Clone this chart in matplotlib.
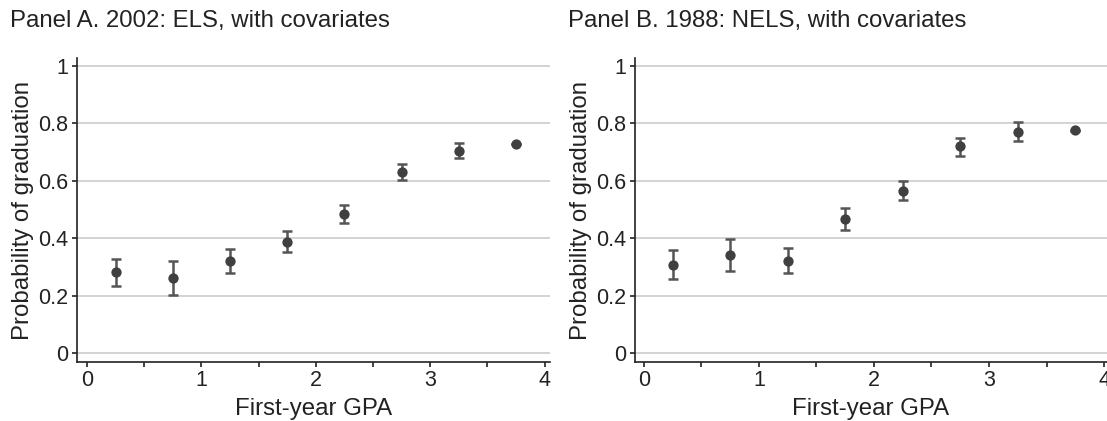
import matplotlib
matplotlib.use("Agg")
from matplotlib import pyplot as plt
from matplotlib.ticker import MultipleLocator

plt.rcParams['font.family'] = ['Liberation Sans', 'DejaVu Sans']

gpa = [0.25, 0.75, 1.25, 1.75, 2.25, 2.75, 3.25, 3.75]

# Panel A: ELS 2002
els_est = [0.282, 0.263, 0.322, 0.387, 0.486, 0.630, 0.705, 0.728]
els_lo = [0.233, 0.203, 0.280, 0.352, 0.455, 0.603, 0.678, 0.727]
els_hi = [0.329, 0.321, 0.364, 0.424, 0.516, 0.658, 0.731, 0.729]

# Panel B: NELS 1988
nels_est = [0.308, 0.341, 0.322, 0.467, 0.565, 0.721, 0.772, 0.776]
nels_lo = [0.257, 0.286, 0.279, 0.429, 0.532, 0.687, 0.739, 0.775]
nels_hi = [0.358, 0.396, 0.366, 0.504, 0.598, 0.751, 0.804, 0.777]

titles = ["Panel A. 2002: ELS, with covariates", "Panel B. 1988: NELS, with covariates"]
yticks = [0, 0.2, 0.4, 0.6, 0.8, 1]
ytick_labels = ["0", "0.2", "0.4", "0.6", "0.8", "1"]

fig = plt.figure(figsize=(11.07, 4.21), dpi=100)
ax1 = fig.add_axes([0.0693, 0.1401, 0.4276, 0.7221])
ax2 = fig.add_axes([0.5736, 0.1401, 0.4264, 0.7221])

panels = [(ax1, els_est, els_lo, els_hi, (-0.09, 4.047)),
          (ax2, nels_est, nels_lo, nels_hi, (-0.078, 4.026))]
for ax, est, lo, hi, xlim in panels:
    err = [[e - l for e, l in zip(est, lo)], [h - e for e, h in zip(est, hi)]]
    ax.errorbar(gpa, est, yerr=err, fmt='none', ecolor='#555555',
                elinewidth=1.8, capsize=3.6, capthick=1.8, zorder=3)
    ax.scatter(gpa, est, s=55, color='#404040', zorder=4, linewidths=0)

    ax.set_xlim(*xlim)
    ax.set_ylim(-0.031, 1.028)
    ax.set_yticks(yticks)
    ax.set_yticklabels(ytick_labels)
    ax.set_xticks([0, 1, 2, 3, 4])
    ax.xaxis.set_minor_locator(MultipleLocator(0.5))
    ax.grid(axis='y', color='#cccccc', linewidth=1.2, zorder=0)
    ax.set_axisbelow(True)

    for s in ['top', 'right']:
        ax.spines[s].set_visible(False)
    for s in ['left', 'bottom']:
        ax.spines[s].set_color('#222222')
        ax.spines[s].set_linewidth(1.2)

    ax.tick_params(axis='both', which='major', direction='out', length=3.6,
                   width=1.2, color='#222222', labelsize=15.5, labelcolor='#222222')
    ax.tick_params(axis='x', which='minor', direction='out', length=3.6,
                   width=1.2, color='#222222')
    ax.tick_params(axis='y', pad=2.5)
    ax.tick_params(axis='x', pad=2.5)

    ax.set_xlabel("First-year GPA", fontsize=17.3, color='#222222', labelpad=5)
    ax.set_ylabel("Probability of graduation", fontsize=17.3, color='#222222', labelpad=3)

fig.text(0.009, 0.95, titles[0], fontsize=17.3, color='#222222', va='center')
fig.text(0.513, 0.95, titles[1], fontsize=17.3, color='#222222', va='center')

fig.savefig("out.png", dpi=100)
